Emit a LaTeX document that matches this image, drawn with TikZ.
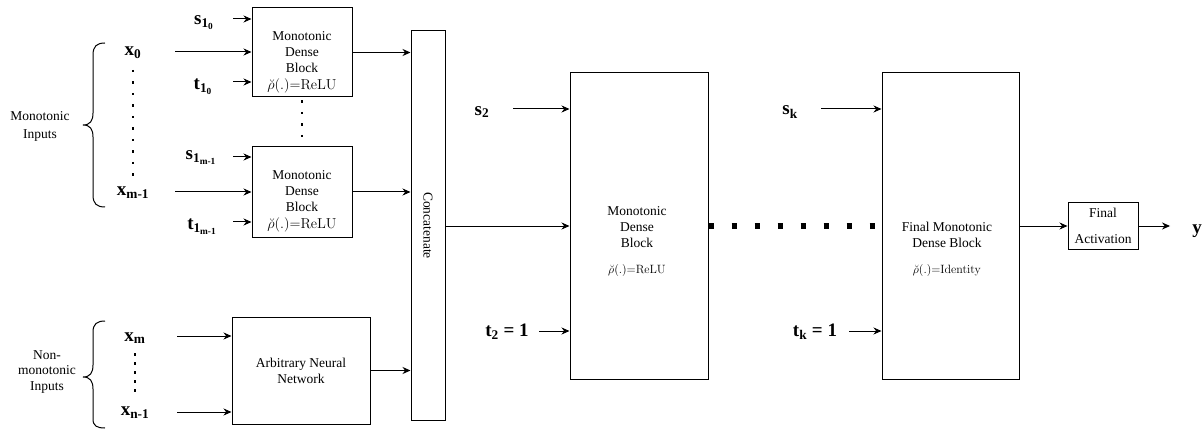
\documentclass[tikz,border=0pt]{standalone}
\usepackage[no-math]{fontspec}
\setmainfont{Liberation Serif}
\usetikzlibrary{arrows.meta}

\newcommand{\boxfont}{\fontsize{13.5}{16}\selectfont}
\newcommand{\lblfont}{\fontsize{19}{22}\selectfont\bfseries}

\begin{document}
\begin{tikzpicture}[x=1pt,y=1pt,
    blk/.style={draw,line width=1pt,inner sep=0pt},
    arr/.style={-{Stealth[length=8pt,width=7pt]},line width=1pt},
    lbl/.style={font=\lblfont,inner sep=0pt},
    txt/.style={font=\boxfont,align=center,inner sep=0pt},
    vdots/.style={line width=2.5pt,dash pattern=on 2.5pt off 9pt}]
    \useasboundingbox (0,0) rectangle (1202,429);

    % blocks
    \node[blk,minimum width=100,minimum height=89] (mdbA) at (302,376.5) {};
    \node[blk,minimum width=100,minimum height=90] (mdbB) at (302,237) {};
    \node[blk,txt,minimum width=138,minimum height=107] (ann) at (301,58.5) {Arbitrary Neural\\Network};
    \node[blk,minimum width=34,minimum height=389] (concat) at (428,203.5) {};
    \node[blk,minimum width=138,minimum height=306] (mdb2) at (639,203) {};
    \node[blk,minimum width=137,minimum height=306] (mdbk) at (950.5,203) {};
    \node[blk,txt,minimum width=70,minimum height=46] (fact) at (1103,203) {Final\\[10pt]Activation};

    % texts in blocks
    \node[txt] (mdbAtxt) at (302,366.5) {Monotonic\\Dense\\Block\\[1pt]$\breve{\rho}(.){=}\mathrm{ReLU}$};
    \node[txt] (mdbBtxt) at (302,228) {Monotonic\\Dense\\Block\\[1pt]$\breve{\rho}(.){=}\mathrm{ReLU}$};
    \node[txt,rotate=-90] (concattxt) at (concat) {Concatenate};
    \node[txt] (mdb2txt) at (637,202) {Monotonic\\Dense\\Block};
    \node[txt,font=\fontsize{13}{15}\selectfont] (mdb2rho) at (637,159) {$\breve{\rho}(.){=}\mathrm{ReLU}$};
    \node[txt] (mdbktxt) at (947,194) {Final Monotonic\\Dense Block};
    \node[txt,font=\fontsize{13}{15}\selectfont] (mdbkrho) at (947,159) {$\breve{\rho}(.){=}\mathrm{Identity}$};

    % input groups
    \node[txt,font=\fontsize{13.5}{18}\selectfont] (monoin) at (40,303) {Monotonic\\Inputs};
    \node[txt,font=\fontsize{13.5}{15.5}\selectfont] (nonmonoin) at (47,57) {Non-\\monotonic\\Inputs};
    \draw[line width=1pt] (105,386) .. controls (97,386) and (93,383) .. (93,374) -- (93,316)
        .. controls (93,308) and (90,304) .. (83,304) .. controls (90,304) and (93,300) .. (93,292)
        -- (93,234) .. controls (93,225) and (97,222) .. (105,222);
    \draw[line width=1pt] (105,108) .. controls (97,108) and (93,105) .. (93,97) -- (93,64)
        .. controls (93,56) and (90,52) .. (83,52) .. controls (90,52) and (93,48) .. (93,40)
        -- (93,10) .. controls (93,3) and (97,1) .. (105,1);

    \node[lbl] (x0) at (133,376) {x\textsubscript{0}};
    \node[lbl] (xm1) at (133,236) {x\textsubscript{m-1}};
    \node[lbl] (xm) at (135,91) {x\textsubscript{m}};
    \node[lbl] (xn1) at (135,16) {x\textsubscript{n-1}};
    \draw[vdots] (133,359) -- (x0 |- 0,252);
    \draw[vdots,dash pattern=on 2.5pt off 6.5pt] (135,76) -- (xm |- 0,36);

    \coordinate (x0a) at (175,377);
    \coordinate (xm1a) at (175,237);
    \coordinate (xma) at (177,93);
    \coordinate (xn1a) at (177,17);
    \draw[arr] (x0a) -- (x0a -| mdbA.west);
    \draw[arr] (xm1a) -- (xm1a -| mdbB.west);
    \draw[arr] (xma) -- (xma -| ann.west);
    \draw[arr] (xn1a) -- (xn1a -| ann.west);

    % weights of the first blocks
    \node[lbl] (s10) at (204,406) {s\textsubscript{1\textsubscript{0}}};
    \node[lbl] (t10) at (203,342) {t\textsubscript{1\textsubscript{0}}};
    \node[lbl] (s1m) at (201,271) {s\textsubscript{1\textsubscript{m-1}}};
    \node[lbl] (t1m) at (202,202) {t\textsubscript{1\textsubscript{m-1}}};
    \coordinate (s10a) at (233,410);
    \coordinate (t10a) at (233,347);
    \coordinate (s1ma) at (233,272);
    \coordinate (t1ma) at (233,207);
    \draw[arr] (s10a) -- (s10a -| mdbA.west);
    \draw[arr] (t10a) -- (t10a -| mdbA.west);
    \draw[arr] (s1ma) -- (s1ma -| mdbB.west);
    \draw[arr] (t1ma) -- (t1ma -| mdbB.west);
    \draw[vdots] ([yshift=-3pt]mdbA.south) -- (mdbB.north);

    \draw[arr] (mdbA.east) -- (mdbA.east -| concat.west);
    \draw[arr] (mdbB.east) -- (mdbB.east -| concat.west);
    \draw[arr] (ann.east) -- (ann.east -| concat.west);
    \draw[arr] (concat.east |- mdb2.west) -- (mdb2.west);

    % second and last blocks
    \node[lbl] (s2) at (482,317) {s\textsubscript{2}};
    \node[lbl] (t2) at (507,97) {t\textsubscript{2} = 1};
    \node[lbl] (sk) at (790,317) {s\textsubscript{k}};
    \node[lbl] (tk) at (815,97) {t\textsubscript{k} = 1};
    \coordinate (s2a) at (513,320);
    \coordinate (t2a) at (539,98);
    \coordinate (ska) at (821,320);
    \coordinate (tka) at (849,98);
    \draw[arr] (s2a) -- (s2a -| mdb2.west);
    \draw[arr] (t2a) -- (t2a -| mdb2.west);
    \draw[arr] (ska) -- (ska -| mdbk.west);
    \draw[arr] (tka) -- (tka -| mdbk.west);
    \draw[line width=5pt,dash pattern=on 5pt off 18pt] (mdb2.east) -- (mdbk.west);

    \draw[arr] (mdbk.east) -- (fact.west);
    \node[lbl] (y) at (1197,198) {y};
    \draw[arr,shorten >=22pt] (fact.east) -- (fact.east -| y.west);
\end{tikzpicture}
\end{document}
